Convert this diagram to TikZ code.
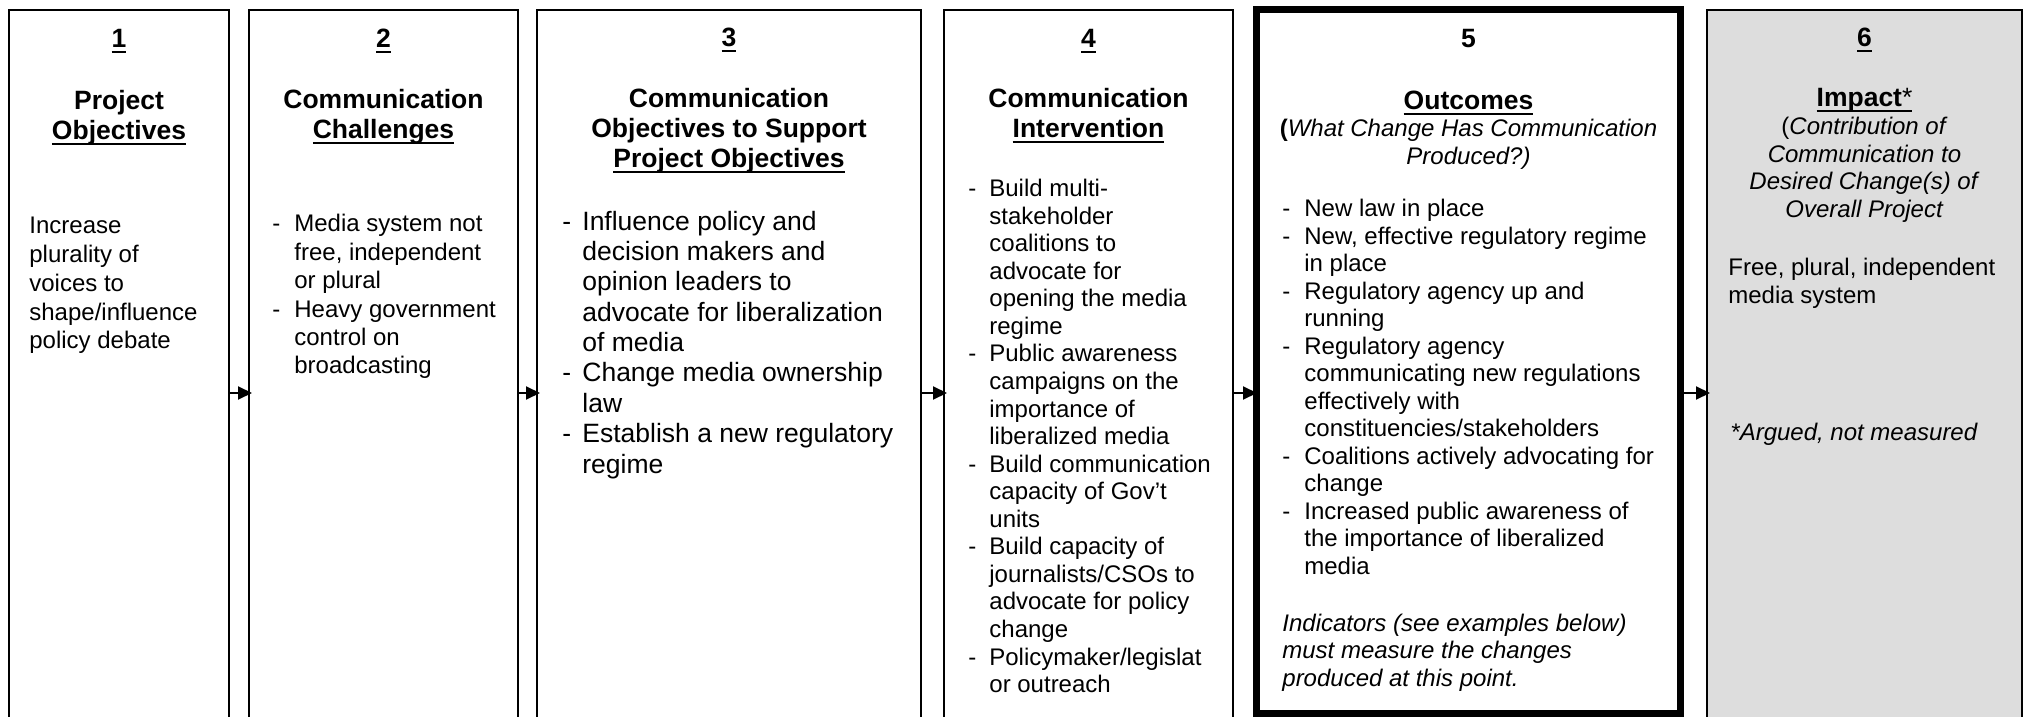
\documentclass[tikz,border=0pt]{standalone}
\usepackage{fontspec}
\setmainfont{Liberation Sans}
\usetikzlibrary{arrows.meta,fit}
\definecolor{impactgray}{RGB}{221,221,221}
\newcommand\myul[1]{\setbox0\hbox{#1}\rlap{\rule[-2.6pt]{\wd0}{0.95pt}}\box0}
\newcommand\hdfont{\fontsize{13.25}{15}\selectfont\bfseries}
\newcommand\bodyfont[1]{\fontsize{12}{#1}\selectfont}
\begin{document}
\begin{tikzpicture}[x=0.5pt,y=-0.5pt,
  box/.style={draw=black, line width=1pt, inner sep=0pt, rectangle},
  thickbox/.style={draw=black, line width=3.5pt, inner sep=0pt, rectangle},
  txt/.style={inner sep=0pt, anchor=base west},
  hdr/.style={inner sep=0pt, anchor=base},
  arr/.style={-{Triangle[length=7pt,width=6.5pt]}, line width=1pt, shorten >=-2pt}]
\useasboundingbox (0,0) rectangle (2026,717);
\begin{scope}
\clip (0,0) rectangle (2026,717);
\node[box, fit={(9,10) (229,760)}] (b1) {};
\node[box, fit={(249,10) (518,760)}] (b2) {};
\node[box, fit={(537,10) (921,760)}] (b3) {};
\node[box, fit={(944,10) (1233,760)}] (b4) {};
\node[thickbox, fit={(1256.5,9.5) (1680.5,713.5)}] (b5) {};
\node[box, fill=impactgray, fit={(1707,10) (2022,760)}] (b6) {};
\end{scope}
\coordinate (ay) at (0,393);
\draw[arr] (b1.east |- ay) -- (b2.west |- ay);
\draw[arr] (b2.east |- ay) -- (b3.west |- ay);
\draw[arr] (b3.east |- ay) -- (b4.west |- ay);
\draw[arr] (b4.east |- ay) -- (b5.west |- ay);
\draw[arr] (b5.east |- ay) -- (b6.west |- ay);
% Box 1
\node[hdr] (n1) at (119,48) {\hdfont\myul{1}};
\node[hdr] (h1) at (119,110) {\hdfont\begin{tabular}[t]{@{}c@{}}Project\\\myul{Objectives}\end{tabular}};
\node[txt] (t1) at (29,234) {\bodyfont{14.35pt}\begin{tabular}[t]{@{}l@{}}Increase\\plurality of\\voices to\\shape/influence\\policy debate\end{tabular}};
% Box 2
\node[hdr] (n2) at (383.5,48) {\hdfont\myul{2}};
\node[hdr] (h2) at (383.5,109) {\hdfont\begin{tabular}[t]{@{}c@{}}Communication\\\myul{Challenges}\end{tabular}};
\node[txt] (t2) at (272,232) {\bodyfont{14.2pt}\begin{tabular}[t]{@{}p{11pt}@{}l@{}}-&Media system not\\&free, independent\\&or plural\\-&Heavy government\\&control on\\&broadcasting\end{tabular}};
% Box 3
\node[hdr] (n3) at (729,47) {\hdfont\myul{3}};
\node[hdr] (h3) at (729,108) {\hdfont\begin{tabular}[t]{@{}c@{}}Communication\\Objectives to Support\\\myul{Project Objectives}\end{tabular}};
\node[txt] (t3) at (562,230) {\fontsize{13.25}{15.2}\selectfont\begin{tabular}[t]{@{}p{10pt}@{}l@{}}-&Influence policy and\\&decision makers and\\&opinion leaders to\\&advocate for liberalization\\&of media\\-&Change media ownership\\&law\\-&Establish a new regulatory\\&regime\end{tabular}};
% Box 4
\node[hdr] (n4) at (1088.5,48) {\hdfont\myul{4}};
\node[hdr] (h4) at (1088.5,107.5) {\hdfont\begin{tabular}[t]{@{}c@{}}Communication\\\myul{Intervention}\end{tabular}};
\node[txt] (t4) at (968,196.6) {\bodyfont{13.78pt}\begin{tabular}[t]{@{}p{10.5pt}@{}l@{}}-&Build multi-\\&stakeholder\\&coalitions to\\&advocate for\\&opening the media\\&regime\\-&Public awareness\\&campaigns on the\\&importance of\\&liberalized media\\-&Build communication\\&capacity of Gov’t\\&units\\-&Build capacity of\\&journalists/CSOs to\\&advocate for policy\\&change\\-&Policymaker/legislat\\&or outreach\end{tabular}};
% Box 5
\node[hdr] (n5) at (1468.5,48) {\hdfont 5};
\node[hdr] (h5) at (1468.5,109.7) {\hdfont\myul{Outcomes}};
\node[hdr] (s5) at (1468.5,137) {\bodyfont{13.75pt}\begin{tabular}[t]{@{}c@{}}\textbf{(}\textit{What Change Has Communication}\\\textit{Produced?)}\end{tabular}};
\node[txt] (t5) at (1282,217) {\bodyfont{13.75pt}\begin{tabular}[t]{@{}p{11pt}@{}l@{}}-&New law in place\\-&New, effective regulatory regime\\&in place\\-&Regulatory agency up and\\&running\\-&Regulatory agency\\&communicating new regulations\\&effectively with\\&constituencies/stakeholders\\-&Coalitions actively advocating for\\&change\\-&Increased public awareness of\\&the importance of liberalized\\&media\end{tabular}};
\node[txt] (i5) at (1282,631) {\bodyfont{13.75pt}\itshape\begin{tabular}[t]{@{}l@{}}Indicators (see examples below)\\must measure the changes\\produced at this point.\end{tabular}};
% Box 6
\node[hdr] (n6) at (1864.5,47) {\hdfont\myul{6}};
\node[hdr] (h6) at (1864.5,106.7) {\hdfont\myul{Impact\textmd{*}}};
\node[hdr] (s6) at (1864.5,135) {\bodyfont{13.75pt}\begin{tabular}[t]{@{}c@{}}(\textit{Contribution of}\\\textit{Communication to}\\\textit{Desired Change(s) of}\\\textit{Overall Project}\end{tabular}};
\node[txt] (t6) at (1728,276) {\bodyfont{13.75pt}\begin{tabular}[t]{@{}l@{}}Free, plural, independent\\media system\end{tabular}};
\node[txt] (a6) at (1730,440.7) {\bodyfont{13.75pt}\textit{*Argued, not measured}};
\end{tikzpicture}
\end{document}
